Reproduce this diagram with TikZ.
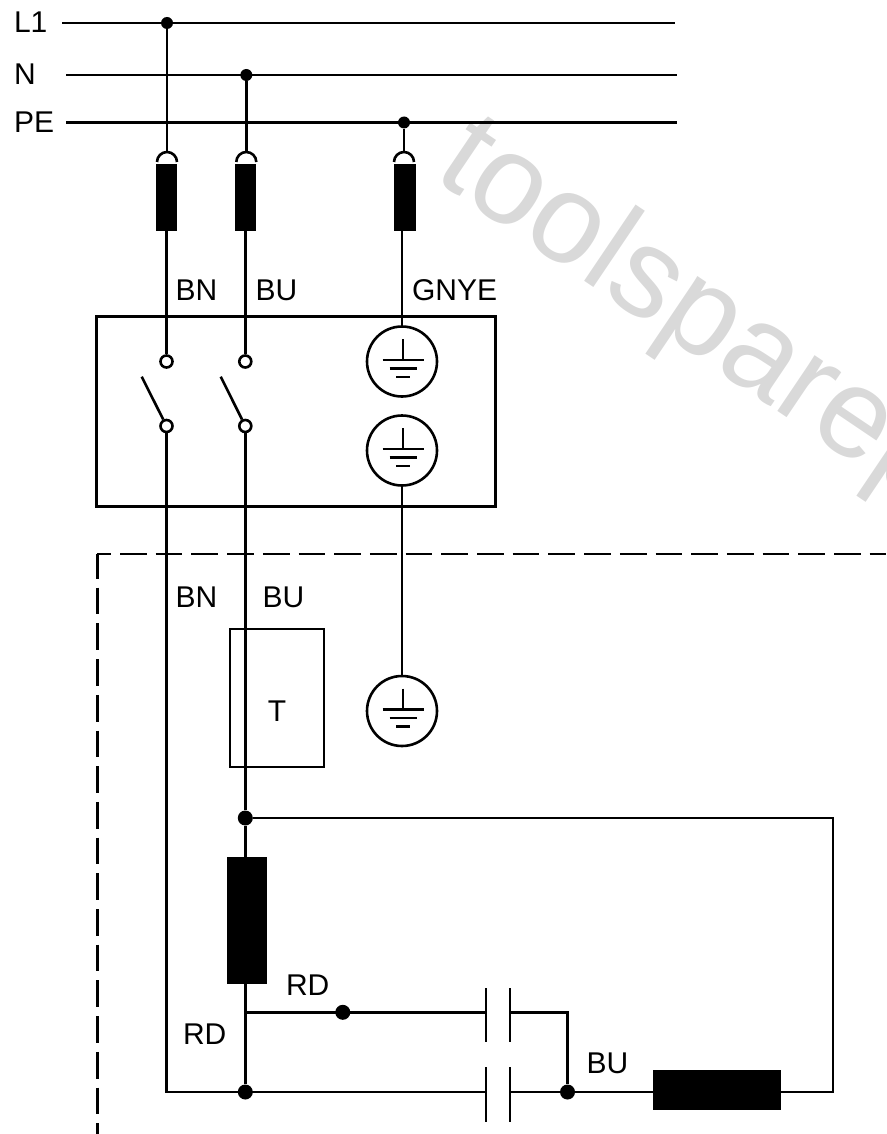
\documentclass[tikz,border=0pt]{standalone}
\usepackage{fontspec}
\setmainfont{Liberation Sans}
\tikzset{
  wire/.style={line width=2.6pt},
  lbl/.style={font=\fontsize{30}{32}\selectfont,anchor=base west,inner sep=0pt,outer sep=0pt},
  dot/.style={circle,fill=black,inner sep=0pt,minimum size=15pt},
  smalldot/.style={circle,fill=black,inner sep=0pt,minimum size=12pt},
  term/.style={circle,draw=black,fill=white,line width=2.6pt,inner sep=0pt,minimum size=12pt},
  blk/.style={rectangle,fill=black,inner sep=0pt},
  earthc/.style={circle,draw=black,line width=2.6pt,inner sep=0pt,minimum size=70pt},
  dashline/.style={line width=2.6pt,dash pattern=on 26.7pt off 9pt},
}
\newcommand{\earthsym}[2]{%
  \draw[wire] (#1,#2-22.5) -- (#1,#2-1.5);
  \draw[wire] (#1-20.5,#2-1.5) -- (#1+20.5,#2-1.5);
  \draw[wire] (#1-13.5,#2+7) -- (#1+13.5,#2+7);
  \draw[wire] (#1-7,#2+15.5) -- (#1+7,#2+15.5);
}
\newcommand{\fusearc}[2]{%
  \draw[wire] (#1-10,#2) arc[start angle=180,end angle=360,radius=10];
}
\begin{document}
\begin{tikzpicture}[x=1pt,y=-1pt]
\useasboundingbox (0,0) rectangle (886,1134);
\begin{scope}
\clip (0,0) rectangle (886,1134);
\node[rotate=-34,anchor=base west,inner sep=0pt,text=black!15,font=\fontsize{127}{130}\selectfont] (wm) at (431,177.5) {toolsparep};
\end{scope}
% buses
\coordinate (l1a) at (62,23); \coordinate (l1b) at (675,23);
\coordinate (na) at (66,75); \coordinate (nb) at (677,75);
\coordinate (pa) at (66,122.5); \coordinate (pb) at (677,122.5);
\draw[wire] (l1a) -- (l1b);
\draw[wire] (na) -- (nb);
\draw[wire] (pa) -- (pb);
\node[smalldot] (d1) at (167,23) {};
\node[smalldot] (d2) at (246.3,75) {};
\node[smalldot] (d3) at (404,122.5) {};
\node[lbl] (tl1) at (14,33) {L1};
\node[lbl] (tn) at (14,85) {N};
\node[lbl] (tpe) at (14,133) {PE};
% plugs
\node[blk,minimum width=21.5pt,minimum height=67pt] (f1) at (166.5,197.5) {};
\node[blk,minimum width=21.5pt,minimum height=67pt] (f2) at (245.3,197.5) {};
\node[blk,minimum width=22pt,minimum height=67pt] (f3) at (404.5,197.5) {};
\fusearc{167}{162}\fusearc{246.3}{162}\fusearc{404}{162}
\coordinate (a1) at (167,153); \coordinate (a2) at (246.3,153); \coordinate (a3) at (404,153);
\draw[wire] (d1) -- (a1);
\draw[wire] (d2) -- (a2);
\draw[wire] (d3) -- (a3);
% box
\node[rectangle,draw=black,line width=2.6pt,minimum width=399pt,minimum height=190pt,inner sep=0pt] (box) at (296.25,411.75) {};
% switch terminals
\node[term] (s1t) at (166.5,361.5) {};
\node[term] (s2t) at (245.3,361.5) {};
\node[term] (s1b) at (166.5,426) {};
\node[term] (s2b) at (245.3,426) {};
\coordinate (b1) at (141.7,376.7); \coordinate (b2) at (220.7,376.7);
\draw[wire] (b1) -- (s1b);
\draw[wire] (b2) -- (s2b);
\draw[wire] (f1) -- (s1t);
\draw[wire] (f2) -- (s2t);
% earths
\node[earthc] (e1) at (402,361.5) {};
\node[earthc] (e2) at (402,450.5) {};
\node[earthc] (e3) at (402,711) {};
\earthsym{403}{361.5}\earthsym{403}{450.5}\earthsym{403}{711}
\draw[wire] (f3.south -| e1.north) -- (e1.north);
\draw[wire] (e2.south) -- (e3.north);
\node[lbl] at (175.5,300) {BN};
\node[lbl] at (255.5,300) {BU};
\node[lbl] at (412,300) {GNYE};
% dashed
\coordinate (dshc) at (97.3,554); \coordinate (dsh1) at (97.3,1134); \coordinate (dsh3) at (886,554);
\draw[dashline,dash phase=2pt] (dshc) -- (dsh1);
\draw[dashline,dash phase=13pt] (dshc) -- (dsh3);
\node[lbl] at (175.5,607) {BN};
\node[lbl] at (262.5,607) {BU};
% T
\node[rectangle,draw=black,line width=2.6pt,minimum width=94pt,minimum height=138pt,inner sep=0pt] (tbox) at (277,698) {};
\node[lbl,anchor=base] (tt) at (277,721.5) {T};
% lower
\node[dot] (j1) at (245.3,818) {};
\node[blk,minimum width=40pt,minimum height=127pt] (coil) at (246.7,920.5) {};
\node[dot] (j2) at (245.3,1092) {};
\node[dot] (j3) at (567.5,1092) {};
\node[dot] (j4) at (342.8,1012.3) {};
\node[blk,minimum width=128pt,minimum height=40pt] (mot) at (716.7,1090) {};
\coordinate (rt) at (833,818); \coordinate (rb) at (833,1092);
\coordinate (c1l) at (486,1012.3); \coordinate (c1r) at (510,1012.3);
\coordinate (c2l) at (486,1092); \coordinate (c2r) at (510,1092);
\coordinate (c3) at (567.5,1012.3);
\coordinate (tap) at (245.3,1012.3);
\draw[wire] (s1b) -- (166.5,1092) -- (c2l);
\draw[wire] (s2b) -- (j1);
\draw[wire] (j1) -- (rt) -- (rb) -- (780,1092);
\draw[wire] (j1) -- (245.3,857);
\draw[wire] (245.3,984) -- (j2);
\draw[wire] (tap) -- (c1l);
\draw[wire] (c1r) -- (c3) -- (j3);
\draw[wire] (c2r) -- (j3) -- (653,1092);
\draw[wire] (c1l |- 0,988) -- (c1l |- 0,1042);
\draw[wire] (c1r |- 0,988) -- (c1r |- 0,1042);
\draw[wire] (c2l |- 0,1067) -- (c2l |- 0,1122);
\draw[wire] (c2r |- 0,1067) -- (c2r |- 0,1122);
\node[lbl] at (286,995.5) {RD};
\node[lbl] at (183,1044) {RD};
\node[lbl] at (586.5,1073) {BU};
\end{tikzpicture}
\end{document}
